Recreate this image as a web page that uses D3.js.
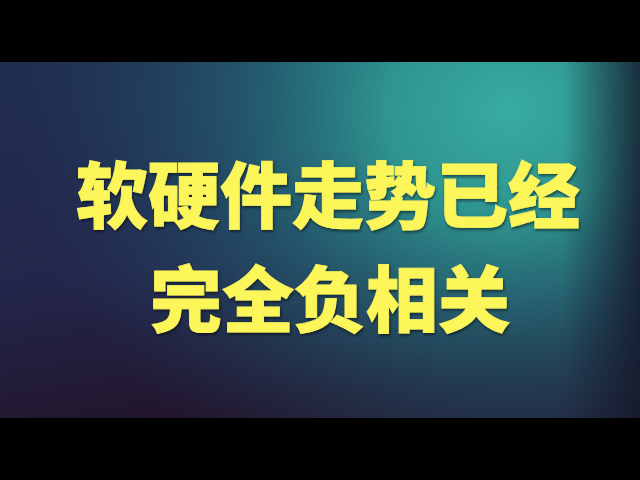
<!DOCTYPE html>
<html>
<head>
<meta charset="utf-8">
<script src="https://cdn.jsdelivr.net/npm/d3@7"></script>
<style>
  html, body { margin: 0; padding: 0; background: #000; }
  svg { display: block; }
</style>
</head>
<body>
<div id="chart-area"></div>
<script>
// Title lines
const titleLines = ["软硬件走势已经", "完全负相关"];
const lineIndex = [0, 1];

const width = 640, height = 480;
const band = { top: 62, bottom: 418 };

const svg = d3.select("#chart-area")
    .append("svg")
    .attr("width", width)
    .attr("height", height);

const defs = svg.append("defs");

/* base gradient: navy top-left -> purple bottom-left */
const base = defs.append("linearGradient")
    .attr("id", "base")
    .attr("x1", "0").attr("y1", "0").attr("x2", "0.3").attr("y2", "1");
base.append("stop").attr("offset", "0%").attr("stop-color", "#202e50");
base.append("stop").attr("offset", "60%").attr("stop-color", "#23264a");
base.append("stop").attr("offset", "100%").attr("stop-color", "#22152c");

/* teal glow upper right */
const glow = defs.append("radialGradient")
    .attr("id", "glow")
    .attr("gradientUnits", "userSpaceOnUse")
    .attr("cx", 510).attr("cy", 110).attr("r", 470)
    .attr("gradientTransform", "translate(510,110) scale(1.05,0.9) translate(-510,-110)");
glow.append("stop").attr("offset", "0%").attr("stop-color", "#38aca1").attr("stop-opacity", 1);
glow.append("stop").attr("offset", "25%").attr("stop-color", "#2f9a93").attr("stop-opacity", 0.95);
glow.append("stop").attr("offset", "55%").attr("stop-color", "#24707e").attr("stop-opacity", 0.6);
glow.append("stop").attr("offset", "100%").attr("stop-color", "#23456a").attr("stop-opacity", 0);

/* dark right edge */
const edge = defs.append("linearGradient")
    .attr("id", "edge")
    .attr("x1", "0").attr("y1", "0").attr("x2", "1").attr("y2", "0");
edge.append("stop").attr("offset", "88%").attr("stop-color", "#15172a").attr("stop-opacity", 0);
edge.append("stop").attr("offset", "100%").attr("stop-color", "#15172a").attr("stop-opacity", 0.8);

/* shadow for text */
const shadow = defs.append("filter").attr("id", "shadow")
    .attr("x", "-10%").attr("y", "-10%").attr("width", "120%").attr("height", "130%");
shadow.append("feDropShadow")
    .attr("dx", 1).attr("dy", 2).attr("stdDeviation", 1.5)
    .attr("flood-color", "#000").attr("flood-opacity", 0.5);

const bg = svg.append("g");
["url(#base)", "url(#glow)", "url(#edge)"].forEach(f => {
    bg.append("rect")
        .attr("x", 0).attr("y", band.top)
        .attr("width", width).attr("height", band.bottom - band.top)
        .attr("fill", f);
});

/* text positions via scale */
const y = d3.scalePoint()
    .domain(lineIndex)
    .range([190, 294]);

svg.append("g")
    .selectAll("text")
    .data(titleLines)
    .join("text")
    .attr("x", (d, i) => i === 0 ? 328 : 330)
    .attr("y", (d, i) => y(i))
    .attr("text-anchor", "middle")
    .attr("dominant-baseline", "central")
    .attr("font-family", "'Noto Sans CJK SC', sans-serif")
    .attr("font-weight", 900)
    .attr("font-size", 72)
    .attr("fill", "#fdf65a")
    .attr("stroke", "#fdf65a")
    .attr("stroke-width", 0.8)
    .attr("filter", "url(#shadow)")
    .text(d => d);
</script>
</body>
</html>
